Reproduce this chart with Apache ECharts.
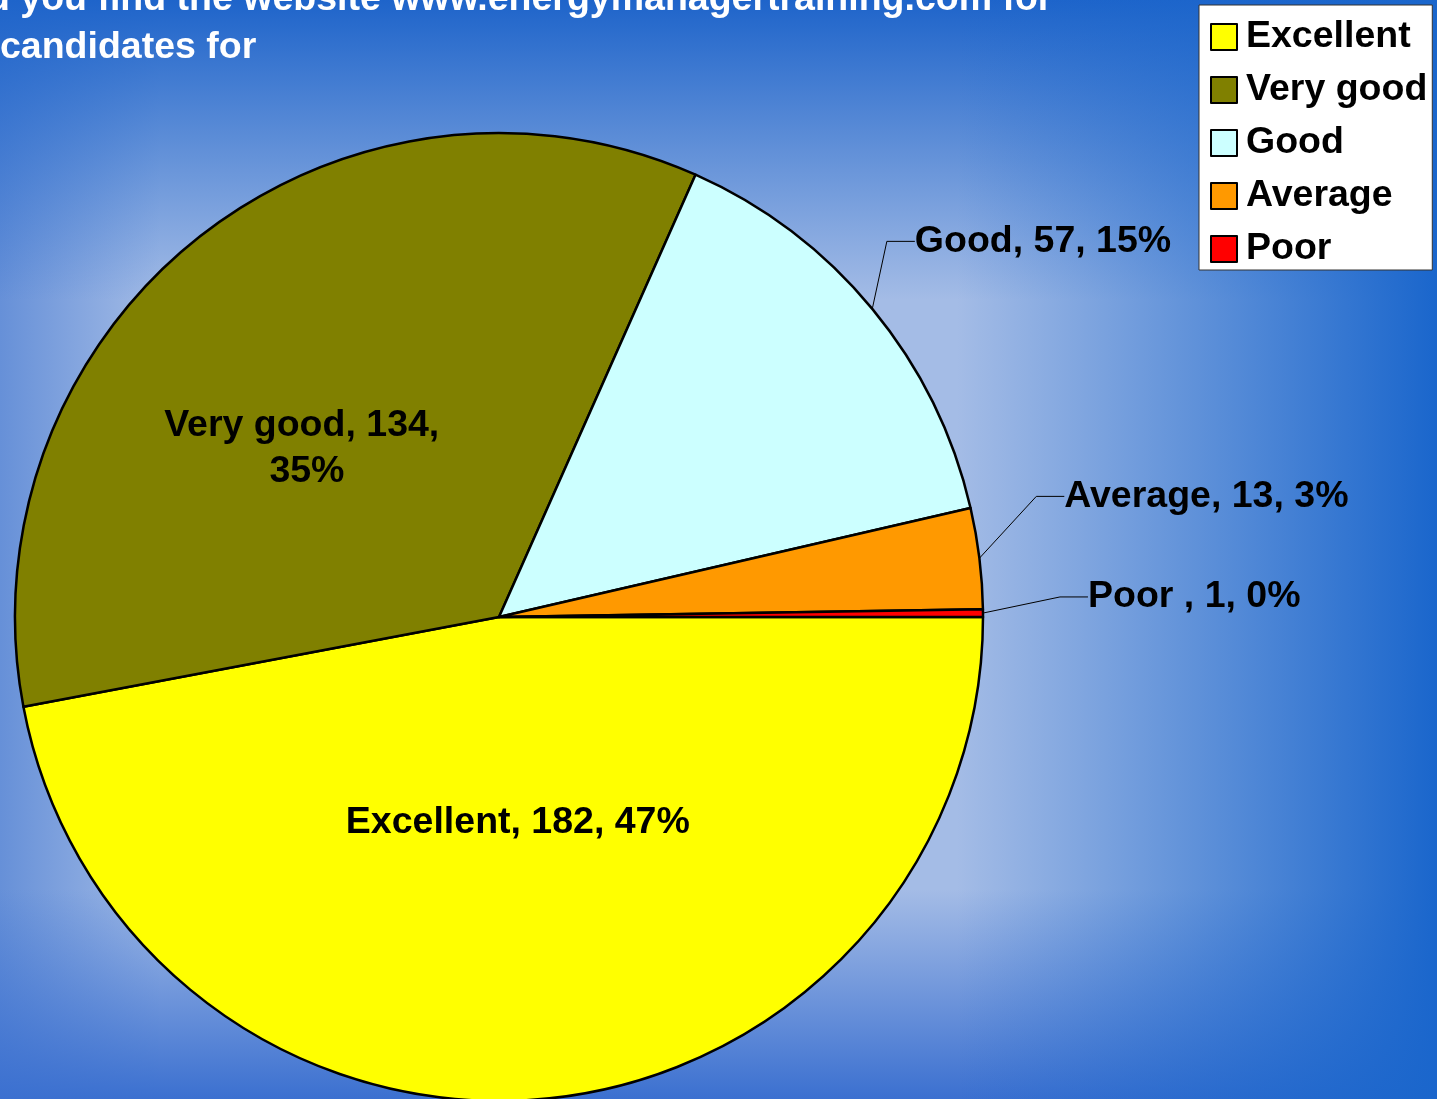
<!DOCTYPE html>
<html>
<head>
<meta charset="utf-8">
<title>Website rating</title>
<script src="https://cdn.jsdelivr.net/npm/echarts@6/dist/echarts.min.js"></script>
<style>
html, body { margin: 0; padding: 0; overflow: hidden; }
/* slide background: light centre, darker blue towards the edges */
#main {
	width: 1437px; height: 1099px;
	background:
		linear-gradient(to left, #1a66cc 0px, rgba(26,102,204,0) 480px),
		linear-gradient(to bottom, #1e64ca 0px, rgba(30,100,202,0) 300px),
		linear-gradient(to top, #3b70d0 0px, rgba(59,112,208,0) 210px),
		linear-gradient(to right, #6690d8 0px, rgba(102,144,216,0) 160px),
		#a4bce6;
}
</style>
</head>
<body>
<div id="main"></div>
<script>
// data
var categories = ['Excellent', 'Very good', 'Good', 'Average', 'Poor '];
var counts = [182, 134, 57, 13, 1];
var titleLines = ['d you find the website www.energymanagertraining.com for', 'candidates for'];

// styles
var sliceColors = ['#ffff00', '#808000', '#ccffff', '#ff9900', '#ff0000'];
var fontFam = '"Liberation Sans", Arial, sans-serif';
var insideSlices = { 'Excellent': true, 'Very good': true };
// label moves from the default place: [dx, dy, anchor]
var labelMove = {
	'Excellent': [-4, -38, 'center'],
	'Very good': [-40, 24, 'center'],
	'Good': [-2, -58, 'left'],
	'Average': [37, -60, 'left'],
	'Poor ': [57, -16, 'left']
};

var pieData = [];
for (var i = 0; i < categories.length; i++) {
	var item = {
		name: categories[i],
		value: counts[i],
		itemStyle: { color: sliceColors[i] }
	};
	if (insideSlices[categories[i]]) {
		item.label = { position: 'inside' };
		item.labelLine = { show: false };
		if (categories[i] == 'Very good') {
			item.label.width = 300;
			item.label.overflow = 'break';
		}
	} else {
		item.label = { position: 'outside' };
		item.labelLine = { show: true };
	}
	pieData.push(item);
}

var myChart = echarts.init(document.getElementById('main'), null, { renderer: 'canvas' });
var option = {
	backgroundColor: 'transparent',
	animation: false,
	graphic: [
		{
			type: 'text', x: -13, y: 0,
			style: { text: titleLines[0], fill: '#fff', font: 'bold 37.5px ' + fontFam, verticalAlign: 'middle' }
		},
		{
			type: 'text', x: 0, y: 48,
			style: { text: titleLines[1], fill: '#fff', font: 'bold 37.5px ' + fontFam, verticalAlign: 'middle' }
		}
	],
	legend: {
		orient: 'vertical',
		left: 1199,
		top: 5,
		padding: [13, 5, 2, 11],
		backgroundColor: '#fff',
		borderColor: '#333',
		borderWidth: 1,
		itemWidth: 26,
		itemHeight: 26,
		itemGap: 15,
		itemTextGap: 9,
		icon: 'rect',
		itemStyle: { borderColor: '#000', borderWidth: 2 },
		textStyle: { color: '#000', fontSize: 37.5, fontWeight: 'bold', fontFamily: fontFam, padding: [0, 0, 0, 4] },
		data: categories
	},
	series: [{
		type: 'pie',
		center: [499, 617],
		radius: 484,
		startAngle: 0,
		clockwise: true,
		percentPrecision: 0,
		avoidLabelOverlap: false,
		itemStyle: { borderColor: '#000', borderWidth: 2.5 },
		label: {
			formatter: '{b}, {c}, {d}%',
			color: '#000',
			fontSize: 37.5,
			fontWeight: 'bold',
			fontFamily: fontFam,
			lineHeight: 46,
			align: 'center'
		},
		labelLine: {
			length: 15,
			length2: 28,
			lineStyle: { color: '#000', width: 1 }
		},
		labelLayout: function (params) {
			var m = labelMove[categories[params.dataIndex]];
			var r = params.labelRect;
			var ax = m[2] == 'center' ? r.x + r.width / 2 : r.x;
			return { x: ax + m[0], y: r.y + r.height / 2 + m[1] };
		},
		emphasis: { disabled: true },
		data: pieData
	}]
};
myChart.setOption(option);
</script>
</body>
</html>
